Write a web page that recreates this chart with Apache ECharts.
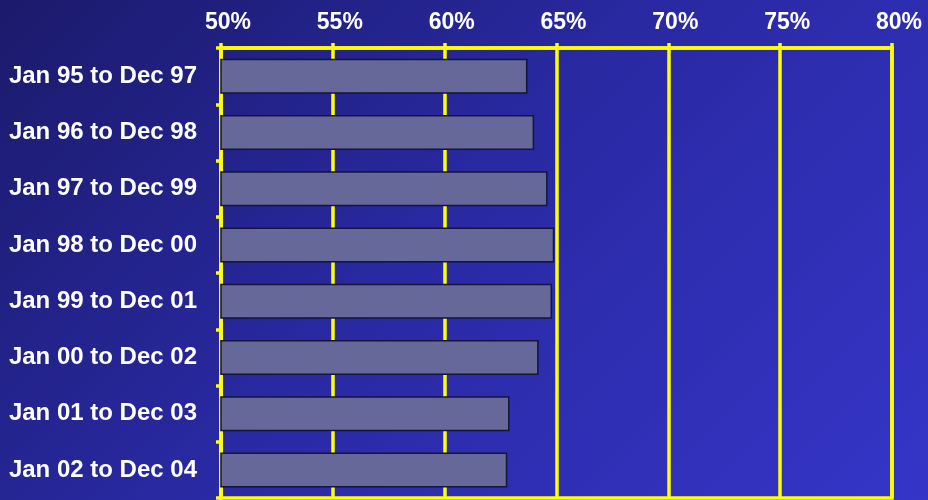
<!DOCTYPE html>
<html>
<head>
<meta charset="utf-8">
<script src="https://cdn.jsdelivr.net/npm/echarts@6/dist/echarts.min.js"></script>
<style>
html,body{margin:0;padding:0;}
#c{width:928px;height:500px;background:linear-gradient(135deg,#1b1a6b 0%,#2a2aa6 50%,#3535c8 100%);}
</style>
</head>
<body>
<div id="c"></div>
<script>
var categories = ['Jan 95 to Dec 97','Jan 96 to Dec 98','Jan 97 to Dec 99','Jan 98 to Dec 00','Jan 99 to Dec 01','Jan 00 to Dec 02','Jan 01 to Dec 03','Jan 02 to Dec 04'];
var values = [63.7, 64.0, 64.6, 64.9, 64.8, 64.2, 62.9, 62.8];
var xMin = 50, xMax = 80, xStep = 5;

var chart = echarts.init(document.getElementById('c'), null, {renderer:'canvas'});
chart.setOption({
  backgroundColor: 'transparent',
  animation: false,
  grid: {left: 221, right: 36, top: 48, bottom: 2, show: true, borderColor: '#ffff00', borderWidth: 3.5, containLabel: false},
  xAxis: {
    type: 'value', position: 'top', min: xMin, max: xMax, interval: xStep,
    axisLine: {show: true, lineStyle: {color: '#ffff00', width: 3.5}},
    axisTick: {show: true, inside: false, length: 5, lineStyle: {color: '#ffff00', width: 3.5}},
    splitLine: {show: true, lineStyle: {color: '#ffff00', width: 3.5}},
    axisLabel: {formatter: '{value}%', color: '#ffffff', fontFamily: 'Liberation Sans, Arial, sans-serif', fontWeight: 'bold', fontSize: 23, margin: 14, padding: [0,0,0,14]}
  },
  yAxis: {
    type: 'category', data: categories, inverse: true,
    axisLine: {show: true, lineStyle: {color: '#ffff00', width: 3.5}},
    axisTick: {show: true, inside: false, length: 5, lineStyle: {color: '#ffff00', width: 3.5}},
    axisLabel: {color: '#ffffff', fontFamily: 'Liberation Sans, Arial, sans-serif', fontWeight: 'bold', fontSize: 24, margin: 24}
  },
  series: [{
    type: 'bar', data: values, barWidth: 35,
    itemStyle: {color: '#67689a', borderColor: '#15153a', borderWidth: 1.5}
  }]
});
</script>
</body>
</html>
